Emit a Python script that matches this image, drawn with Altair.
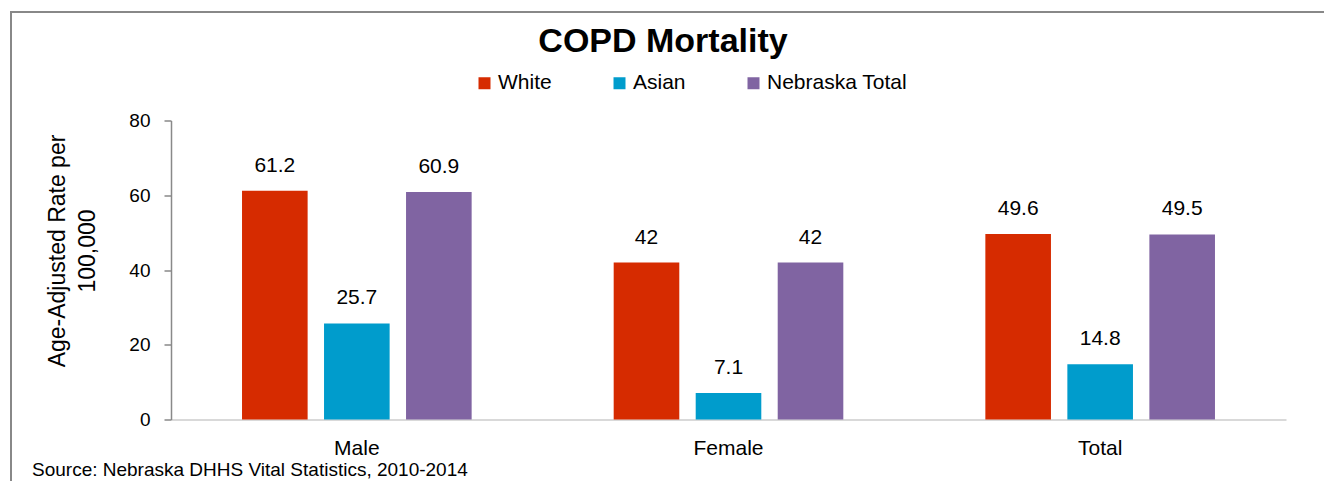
import altair as alt
import pandas as pd

categories = ["Male", "Female", "Total"]
groups = ["White", "Asian", "Nebraska Total"]
white = [61.2, 42, 49.6]
asian = [25.7, 7.1, 14.8]
ne_total = [60.9, 42, 49.5]
colors = ["#D62B00", "#009CCC", "#8064A2"]
y_ticks = [0, 20, 40, 60, 80]
title_text = "COPD Mortality"
y_title = ["Age-Adjusted Rate per", "100,000"]
source_text = "Source: Nebraska DHHS Vital Statistics, 2010-2014"

rows = []
for series, vals in zip(groups, [white, asian, ne_total]):
    for c, v in zip(categories, vals):
        rows.append({"category": c, "group": series, "value": v, "label": f"{v:g}"})
df = pd.DataFrame(rows)

FONT = "Liberation Sans"

x = alt.X(
    "category:N", sort=categories,
    scale=alt.Scale(paddingInner=0, paddingOuter=0),
    axis=alt.Axis(title=None, labelAngle=0, labelFontSize=21, labelColor="black",
                  labelPadding=18, ticks=False, tickSize=0, domainColor="#D9D9D9",
                  domainWidth=2, labelFont=FONT),
)
xoff = alt.XOffset("group:N", sort=groups,
                   scale=alt.Scale(paddingInner=0.2, paddingOuter=0.866))
y = alt.Y(
    "value:Q", scale=alt.Scale(domain=[0, 80]),
    axis=alt.Axis(values=y_ticks, title=y_title, grid=False, labelFontSize=19,
                  labelColor="black", labelFont=FONT, labelPadding=14,
                  tickSize=7, tickColor="#898989", domainColor="#898989",
                  domainWidth=1.5, tickWidth=1.5,
                  titleFont=FONT, titleFontSize=23, titleFontWeight="normal",
                  titleColor="black", titleX=-114, titleY=130, titleAngle=270,
                  titleAlign="center", titleBaseline="middle", titleLineHeight=30),
)

color = alt.Color(
    "group:N", sort=groups,
    scale=alt.Scale(domain=groups, range=colors),
    legend=alt.Legend(orient="none", legendX=303, legendY=-48, direction="horizontal",
                      title=None, symbolType="square", symbolSize=144,
                      labelFontSize=21, labelFont=FONT, labelColor="black",
                      columnPadding=57, labelOffset=3, symbolStrokeWidth=0),
)

base = alt.Chart(df)
bars = base.mark_bar().encode(x=x, xOffset=xoff, y=y, color=color)
labels = base.mark_text(fontSize=21, baseline="middle", dy=-25, font=FONT,
                        color="black").encode(x=x, xOffset=xoff, y=y, text="label:N")

one = alt.Data(values=[{}])
title = alt.Chart(one).mark_text(align="center", baseline="alphabetic", fontSize=34,
                                 fontWeight="bold", font=FONT, color="black").encode(
    x=alt.value(492), y=alt.value(-69), text=alt.value(title_text))
source = alt.Chart(one).mark_text(align="left", baseline="middle", fontSize=19,
                                  font=FONT, color="black").encode(
    x=alt.value(-139), y=alt.value(349.5), text=alt.value(source_text))
frame = alt.Chart(one).mark_rect(filled=False, stroke="#888888", strokeWidth=2).encode(
    x=alt.value(-160), x2=alt.value(1158), y=alt.value(-108.5), y2=alt.value(380))

chart = alt.layer(frame, bars, labels, title, source).properties(
    width=1115, height=299,
    padding={"left": 163, "top": 112.5, "right": 38, "bottom": 61},
    autosize="none",
    background="white",
).configure_view(stroke=None)

chart.save("out.html", embed_options={"renderer": "svg", "actions": False})
